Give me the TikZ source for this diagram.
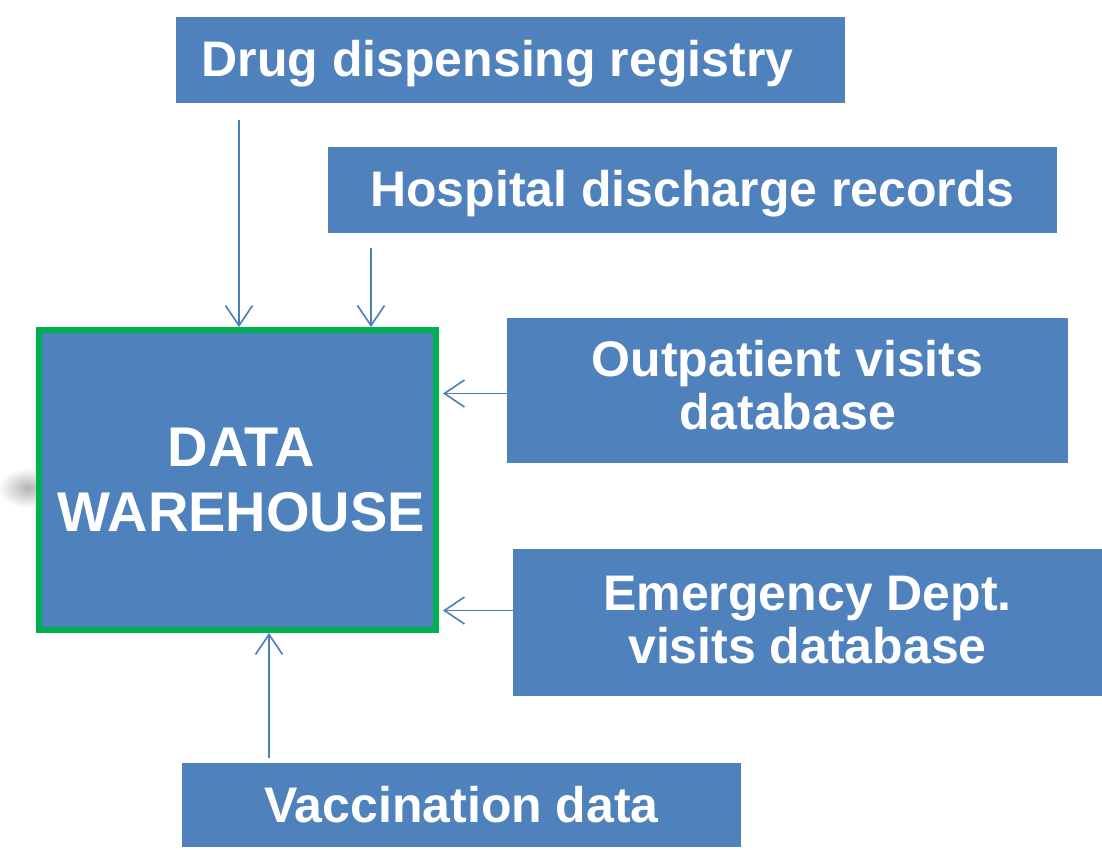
\documentclass[tikz,border=0pt]{standalone}
\usepackage{fontspec}
\setmainfont{Liberation Sans}
\usetikzlibrary{arrows.meta}
\definecolor{boxblue}{HTML}{4F81BD}
\definecolor{arrblue}{HTML}{4A7EBB}
\definecolor{dwgreen}{HTML}{00B050}
\begin{document}
\begin{tikzpicture}[x=1pt,y=-1pt,
  srcbox/.style={fill=boxblue, draw=none, text=white, inner sep=0pt,
    font=\fontsize{50}{53}\selectfont\bfseries, align=center},
  srctext/.style={text=white, inner sep=0pt,
    font=\fontsize{50}{53}\selectfont\bfseries, align=center},
  oneline/.style={text height=34pt, text depth=0pt},
  dwbox/.style={fill=boxblue, draw=dwgreen, line width=6pt, text=white, inner sep=0pt,
    font=\fontsize{56}{67}\selectfont\bfseries, align=center},
  arr/.style={draw=arrblue, line width=1.6pt,
    -{Straight Barb[length=20pt,width=27pt,line width=1.6pt]}}]
\useasboundingbox (0,0) rectangle (1102,850);
\fill[white] (0,0) rectangle (1102,850);
% faint smudge left of the warehouse
\shade[inner color=black!30, outer color=white] (28,488) ellipse [x radius=30, y radius=20];
\node[dwbox, minimum width=397pt, minimum height=300pt] (dw) at (237.5,480) {\kern8pt DATA\\[-2pt]\kern8pt WAREHOUSE};
\node[srcbox, oneline, minimum width=669pt, minimum height=86pt] (drug) at (510.5,60) {Drug dispensing registry\kern26pt};
\node[srcbox, oneline, minimum width=729pt, minimum height=86pt] (hosp) at (692.5,190) {Hospital discharge records};
\node[srcbox, minimum width=561pt, minimum height=145pt] (outp) at (787.5,390.5) {};
\node[srctext] (outpt) at ([yshift=5pt]outp.center) {Outpatient visits\\database};
\node[srcbox, minimum width=589pt, minimum height=147pt] (emerg) at (807.5,622.5) {};
\node[srctext] (emergt) at ([yshift=2pt]emerg.center) {Emergency Dept.\\visits database};
\node[srcbox, oneline, minimum width=559pt, minimum height=84pt] (vacc) at (461.5,805) {Vaccination data};
\coordinate (a1) at (239,120);
\coordinate (a2) at (371,248);
\coordinate (a5) at (269,758);
\draw[arr] (a1) -- (a1 |- dw.north);
\draw[arr] (a2) -- (a2 |- dw.north);
\draw[arr] ([yshift=-3pt]outp.west) -- ([xshift=4pt,yshift=-3pt]outp.west -| dw.east);
\draw[arr] ([yshift=12pt]emerg.west) -- ([xshift=4pt,yshift=12pt]emerg.west -| dw.east);
\draw[arr] (a5) -- (a5 |- dw.south);
\end{tikzpicture}
\end{document}
